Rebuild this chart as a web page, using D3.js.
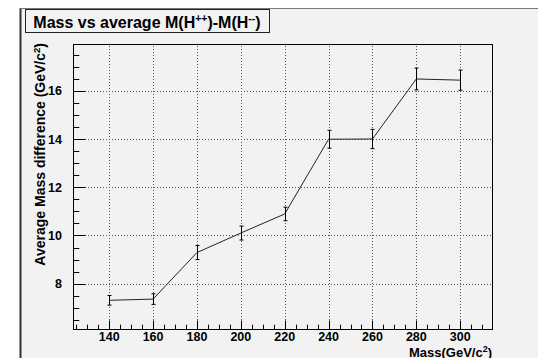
<!DOCTYPE html>
<html>
<head>
<meta charset="utf-8">
<script src="https://cdn.jsdelivr.net/npm/d3@7"></script>
<style>
  body { margin: 0; background: #fff; }
  text { font-family: "Liberation Sans", Arial, sans-serif; font-weight: bold; fill: #000; }
</style>
</head>
<body>
<svg id="chart" width="538" height="358"></svg>
<script>
// data
const masses = [140, 160, 180, 200, 220, 240, 260, 280, 300];
const avgDiff = [7.31, 7.36, 9.29, 10.1, 10.89, 13.99, 14.0, 16.49, 16.44];
const errDiff = [0.2, 0.22, 0.29, 0.29, 0.28, 0.37, 0.4, 0.45, 0.42];
const xTicks = [140, 160, 180, 200, 220, 240, 260, 280, 300];
const yTicks = [8, 10, 12, 14, 16];

const svg = d3.select('#chart');
const margin = { top: 44, right: 46, bottom: 29, left: 73 };
const width = 538, height = 358;

// canvas
svg.append('rect').attr('x', 20).attr('y', 8).attr('width', width - 20).attr('height', height - 8)
    .attr('fill', '#f2f2f2');
svg.append('line').attr('x1', 20.5).attr('x2', 20.5).attr('y1', 8).attr('y2', height)
    .attr('stroke', '#333').attr('stroke-width', 2);
svg.append('line').attr('x1', 20).attr('x2', width).attr('y1', 8.5).attr('y2', 8.5)
    .attr('stroke', '#777').attr('stroke-width', 1);

const xScale = d3.scaleLinear()
    .domain([123.5, 314.5])
    .range([margin.left, width - margin.right]);

const yScale = d3.scaleLinear()
    .domain([6.12, 17.94])
    .range([height - margin.bottom, margin.top]);

const x0 = margin.left, x1 = width - margin.right;
const y0 = height - margin.bottom, y1 = margin.top;

// grid
svg.append('g').selectAll('line')
    .data(xTicks)
    .enter().append('line')
    .attr('x1', d => Math.round(xScale(d)) + 0.5).attr('x2', d => Math.round(xScale(d)) + 0.5)
    .attr('y1', y0).attr('y2', y1)
    .attr('stroke', '#555').attr('stroke-dasharray', '1,2');

svg.append('g').selectAll('line')
    .data(yTicks)
    .enter().append('line')
    .attr('y1', d => Math.round(yScale(d)) + 0.5).attr('y2', d => Math.round(yScale(d)) + 0.5)
    .attr('x1', x0).attr('x2', x1)
    .attr('stroke', '#555').attr('stroke-dasharray', '1,2');

// x axis ticks (ROOT style, pointing up)
const xMinor = d3.range(125, 315, 5);
svg.append('g').selectAll('line')
    .data(xMinor)
    .enter().append('line')
    .attr('x1', d => Math.round(xScale(d)) + 0.5).attr('x2', d => Math.round(xScale(d)) + 0.5)
    .attr('y1', y0).attr('y2', d => y0 - (d % 20 === 0 ? 8.5 : 4.3))
    .attr('stroke', '#000');

svg.append('g').selectAll('text')
    .data(xTicks)
    .enter().append('text')
    .attr('x', d => xScale(d))
    .attr('y', 341)
    .attr('text-anchor', 'middle')
    .attr('font-size', '12.5px')
    .text(d => d);

// y axis ticks
const yMinor = d3.range(6.5, 18, 0.5);
svg.append('g').selectAll('line')
    .data(yMinor)
    .enter().append('line')
    .attr('y1', d => Math.round(yScale(d)) + 0.5).attr('y2', d => Math.round(yScale(d)) + 0.5)
    .attr('x1', x0).attr('x2', d => x0 + (d % 2 === 0 ? 12.6 : 6.3))
    .attr('stroke', '#000');

svg.append('g').selectAll('text')
    .data(yTicks)
    .enter().append('text')
    .attr('x', 62)
    .attr('y', d => yScale(d) + 4.5)
    .attr('text-anchor', 'end')
    .attr('font-size', '12.5px')
    .text(d => d);

// frame
svg.append('rect')
    .attr('x', x0 + 0.5).attr('y', y1 + 0.5)
    .attr('width', x1 - x0).attr('height', y0 - y1)
    .attr('fill', 'none').attr('stroke', '#000');

// connecting line
const line = d3.line()
    .x((d, i) => xScale(masses[i]))
    .y(d => yScale(d));

svg.append('path')
    .datum(avgDiff)
    .attr('d', line)
    .attr('fill', 'none')
    .attr('stroke', '#222')
    .attr('stroke-width', 1);

// error bars
const errs = svg.append('g');
masses.forEach((m, i) => {
    const cx = Math.round(xScale(m)) + 0.5;
    const top = yScale(avgDiff[i] + errDiff[i]);
    const bot = yScale(avgDiff[i] - errDiff[i]);
    errs.append('line').attr('x1', cx).attr('x2', cx).attr('y1', top).attr('y2', bot)
        .attr('stroke', '#000');
    [top, bot].forEach(yy => {
        errs.append('line').attr('x1', cx - 2).attr('x2', cx + 2).attr('y1', yy).attr('y2', yy)
            .attr('stroke', '#000');
    });
});

// axis labels
svg.append('text')
    .attr('text-anchor', 'end')
    .attr('transform', `translate(45, ${y1 - 1}) rotate(-90)`)
    .attr('font-size', '14px')
    .html('Average Mass difference (GeV/c<tspan dy="-5" font-size="9.5px">2</tspan><tspan dy="5">)</tspan>');

svg.append('text')
    .attr('x', x1)
    .attr('y', 356.5)
    .attr('text-anchor', 'end')
    .attr('font-size', '13px')
    .html('Mass(GeV/c<tspan dy="-4.5" font-size="9px">2</tspan><tspan dy="4.5">)</tspan>');

// title box
svg.append('rect')
    .attr('x', 25.5).attr('y', 9.5).attr('width', 244).attr('height', 23)
    .attr('fill', '#f2f2f2').attr('stroke', '#222');

svg.append('text')
    .attr('x', 147)
    .attr('y', 27.5)
    .attr('text-anchor', 'middle')
    .attr('font-size', '16px')
    .html('Mass vs average M(H<tspan dy="-6" font-size="10.5px">++</tspan><tspan dy="6">)-M(H</tspan><tspan dy="-6" font-size="10.5px">--</tspan><tspan dy="6">)</tspan>');
</script>
</body>
</html>
